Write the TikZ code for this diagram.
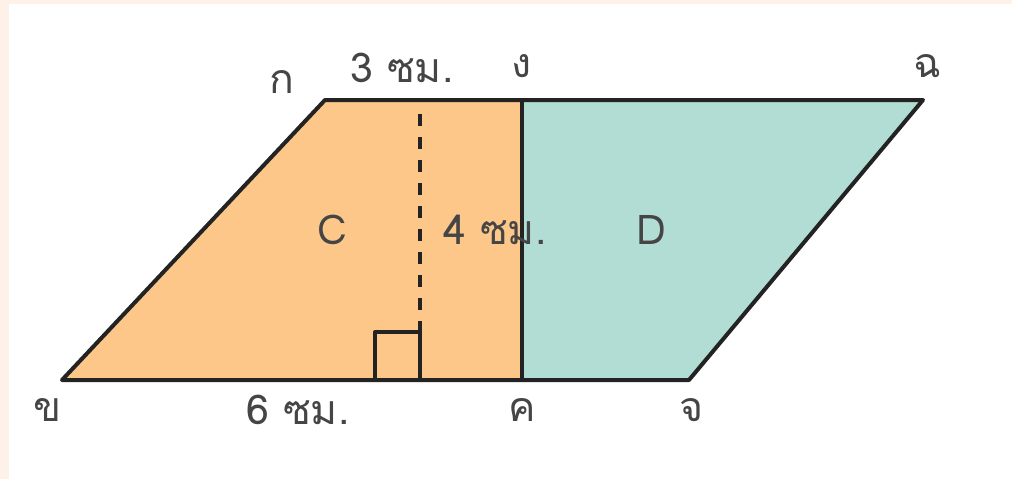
\documentclass[tikz,border=0pt]{standalone}
\usepackage{fontspec}
\newfontfamily\thaifont[Script=Thai]{Loma}
\definecolor{peach}{HTML}{FDF1E8}
\definecolor{orangefill}{HTML}{FDC78A}
\definecolor{tealfill}{HTML}{B1DDD4}
\definecolor{edge}{HTML}{232323}
\definecolor{txt}{HTML}{454545}
\begin{document}
\begin{tikzpicture}[x=1pt,y=-1pt,
  lbl/.style={text=txt,font=\thaifont\fontsize{41}{44}\selectfont,inner sep=0pt},
  edgeline/.style={draw=edge,line width=4pt,line join=round}]
\useasboundingbox (0,0) rectangle (1012,479);
\fill[peach] (0,0) rectangle (1012,479);
\fill[white] (9,4) rectangle (1012,479);
\coordinate (A) at (325,100);
\coordinate (G) at (522,100);
\coordinate (F) at (923,100);
\coordinate (B) at (62,380);
\coordinate (K) at (522,380);
\coordinate (J) at (689,380);
\coordinate (H1) at (420,114);
\coordinate (H2) at (420,380);
\fill[orangefill] (A) -- (G) -- (K) -- (B) -- cycle;
\fill[tealfill] (G) -- (F) -- (J) -- (K) -- cycle;
\draw[draw=edge,line width=4pt,dash pattern=on 12pt off 11pt] (H1) -- (H2);
\draw[edgeline] (375,380) -- (375,332) -- (420,332) -- (H2);
\draw[edgeline] (A) -- (F) -- (J) -- (B) -- cycle;
\draw[edgeline] (G) -- (K);
\node[lbl] (ka) at (282,82) {ก};
\node[lbl] (l3) at (402,68) {3 ซม.};
\node[lbl] (ngo) at (522,66) {ง};
\node[lbl] (cho) at (927,66) {ฉ};
\node[lbl] (C) at (332,230) {C};
\node[lbl] (l4) at (495,230) {4 ซม.};
\node[lbl] (D) at (651,230) {D};
\node[lbl] (kho) at (48,410) {ข};
\node[lbl] (l6) at (298,410) {6 ซม.};
\node[lbl] (kho2) at (522,410) {ค};
\node[lbl] (jo) at (692,410) {จ};
\end{tikzpicture}
\end{document}
